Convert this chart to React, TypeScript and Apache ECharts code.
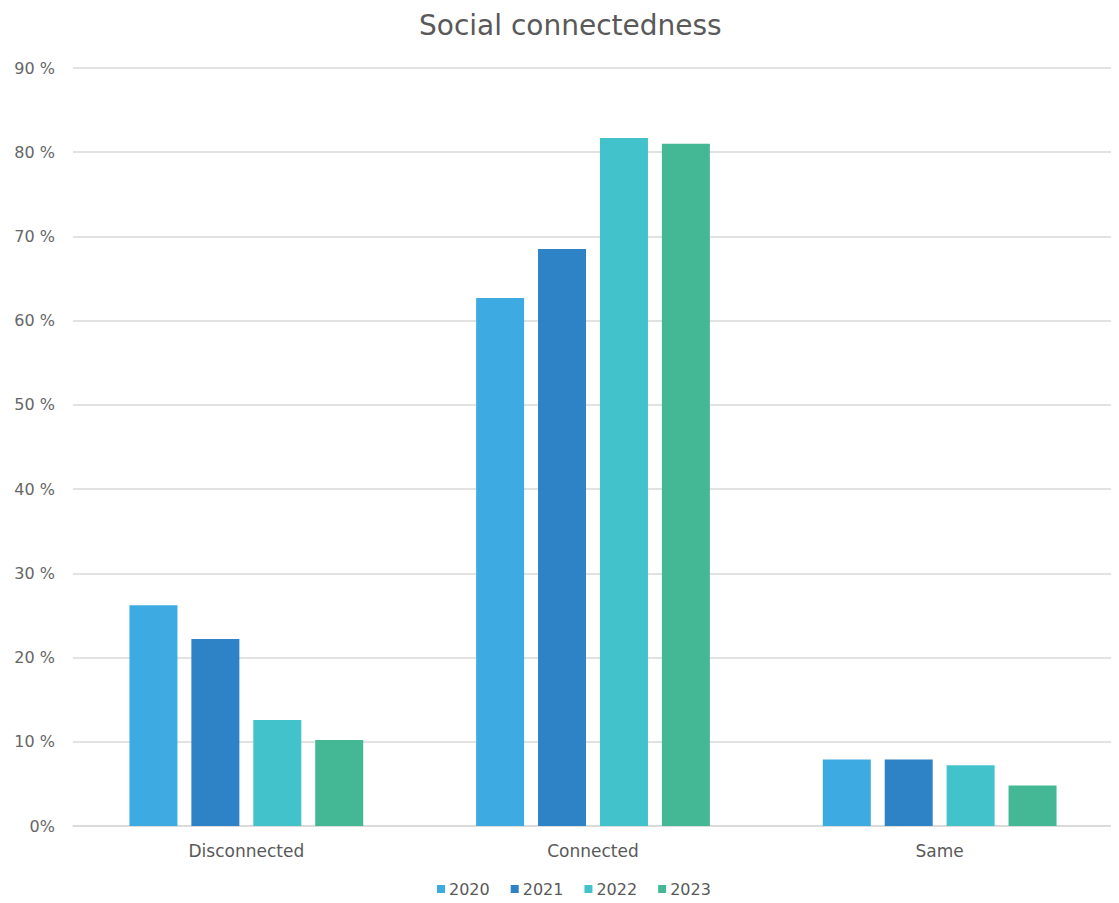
import React, { useEffect, useRef } from "react";
import * as echarts from "echarts";

const categories = ["Disconnected", "Connected", "Same"];
const years = ["2020", "2021", "2022", "2023"];
const values2020 = [26.2, 62.7, 7.9];
const values2021 = [22.2, 68.5, 7.9];
const values2022 = [12.6, 81.7, 7.2];
const values2023 = [10.2, 81.0, 4.8];
const colors = ["#3DABE2", "#2E82C6", "#42C3CB", "#44B894"];
const yTicks = [0, 10, 20, 30, 40, 50, 60, 70, 80, 90];

export default function App() {
  const ref = useRef<HTMLDivElement>(null);
  useEffect(() => {
    if (!ref.current) return;
    const chart = echarts.init(ref.current, null, { renderer: "svg" });
    const seriesData = [values2020, values2021, values2022, values2023];
    chart.setOption({
      animation: false,
      textStyle: { fontFamily: "DejaVu Sans" },
      title: {
        text: "Social connectedness",
        left: 414,
        top: 6,
        textStyle: { fontSize: 28, fontWeight: "normal", color: "#595959", fontFamily: "DejaVu Sans" },
      },
      legend: {
        bottom: 1,
        left: 432,
        itemWidth: 8,
        itemHeight: 8,
        itemGap: 21,
        icon: "rect",
        textStyle: { fontSize: 16, color: "#595959", padding: [0, 0, 0, -1] },
        data: years,
      },
      grid: { left: 73, right: 6, top: 68, bottom: 77, containLabel: false },
      xAxis: {
        type: "category",
        data: categories,
        axisTick: { show: false },
        axisLine: { lineStyle: { color: "#d9d9d9", width: 1.5 } },
        axisLabel: { fontSize: 17, color: "#595959", margin: 16 },
      },
      yAxis: {
        type: "value",
        min: 0,
        max: 90,
        interval: 10,
        axisLine: { show: false },
        axisTick: { show: false },
        splitLine: { lineStyle: { color: "#d9d9d9", width: 1.5 } },
        axisLabel: {
          fontSize: 16,
          color: "#666666",
          margin: 18,
          formatter: (v: number) => (yTicks.includes(v) ? (v === 0 ? "0%" : v + " %") : ""),
        },
      },
      series: years.map((y, i) => ({
        name: y,
        type: "bar",
        data: seriesData[i],
        barWidth: 48,
        barGap: "29%",
        itemStyle: { color: colors[i] },
      })),
    });
    return () => chart.dispose();
  }, []);
  return <div ref={ref} style={{ width: 1119, height: 903, margin: -8 }} />;
}
